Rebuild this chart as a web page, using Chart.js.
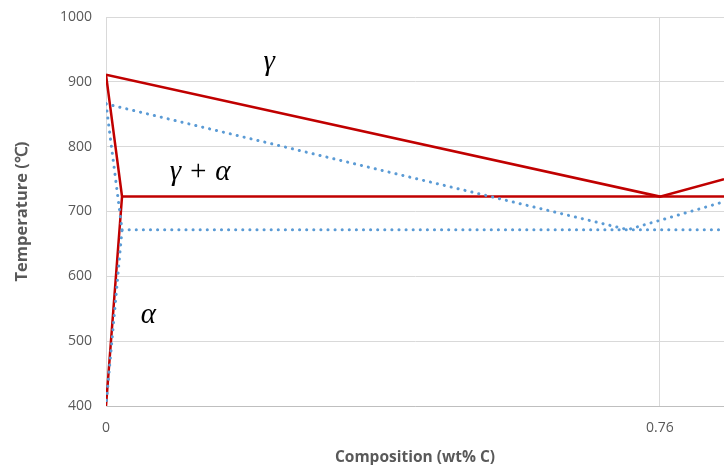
<!DOCTYPE html>
<html>
<head>
<meta charset="utf-8">
<script src="https://cdn.jsdelivr.net/npm/chart.js@4.4.0/dist/chart.umd.min.js"></script>
<style>
  html, body { margin: 0; padding: 0; background: #fff; }
  #wrap { width: 724px; height: 465px; }
</style>
</head>
<body>
<div id="wrap"><canvas id="grafico" width="724" height="465"></canvas></div>
<script>
// Valores (composicion en wt% C, temperatura en C)
var xTicks = [0, 0.76];
var xMax = 0.848;

// lineas rojas (diagrama de equilibrio)
var rojoGamma = [{x: 0, y: 911}, {x: 0.76, y: 723}, {x: 0.848, y: 750}];
var rojoAlfa = [{x: 0, y: 911}, {x: 0.022, y: 723}, {x: 0, y: 400}];
var rojoEutectoide = [{x: 0.022, y: 723}, {x: 0.848, y: 723}];

// lineas azules punteadas (desplazadas)
var azulGamma = [{x: 0, y: 866}, {x: 0.716, y: 672}, {x: 0.848, y: 715}];
var azulAlfa = [{x: 0, y: 866}, {x: 0.022, y: 672}, {x: 0, y: 400}];
var azulEutectoide = [{x: 0.022, y: 672}, {x: 0.848, y: 672}];

// etiquetas de fases
var etiquetas = ["\u03B3", "\u03B3 + \u03B1", "\u03B1"];
var etiquetasX = [0.224, 0.129, 0.058];
var etiquetasY = [930, 761, 540];

var rojo = "#c00000";
var azul = "#5b9bd5";

function serieRoja(datos) {
    return { data: datos, borderColor: rojo, borderWidth: 2.5, pointRadius: 0, fill: false, tension: 0 };
}
function serieAzul(datos) {
    return { data: datos, borderColor: azul, borderWidth: 3, borderDash: [0.1, 7], borderCapStyle: "round",
             pointRadius: 0, fill: false, tension: 0 };
}

// Dibuja las letras griegas dentro del area del grafico
var pluginEtiquetas = {
    id: "etiquetas",
    afterDatasetsDraw: function (chart) {
        var ctx = chart.ctx;
        var sx = chart.scales.x, sy = chart.scales.y;
        ctx.save();
        ctx.fillStyle = "#000";
        ctx.font = "italic 29px 'Liberation Serif'";
        ctx.textAlign = "center";
        ctx.textBaseline = "middle";
        for (var i = 0; i < etiquetas.length; i++) {
            ctx.fillText(etiquetas[i], sx.getPixelForValue(etiquetasX[i]), sy.getPixelForValue(etiquetasY[i]));
        }
        ctx.restore();
    }
};

var ctx = document.getElementById("grafico").getContext("2d");
var myChart = new Chart(ctx, {
    type: "line",
    data: {
        datasets: [
            serieAzul(azulGamma), serieAzul(azulAlfa), serieAzul(azulEutectoide),
            serieRoja(rojoGamma), serieRoja(rojoAlfa), serieRoja(rojoEutectoide)
        ]
    },
    options: {
        responsive: false,
        animation: false,
        layout: { padding: { top: 17, right: 0, left: 0, bottom: 0 } },
        plugins: { legend: { display: false }, tooltip: { enabled: false } },
        scales: {
            x: {
                type: "linear",
                min: 0,
                max: xMax,
                afterBuildTicks: function (scale) {
                    scale.ticks = xTicks.map(function (v) { return { value: v }; });
                },
                afterFit: function (scale) { scale.height = 59; },
                ticks: {
                    color: "#595959",
                    font: { family: "'Open Sans'", size: 14 },
                    maxRotation: 0,
                    padding: 14,
                    callback: function (v) { return v === 0 ? "0" : String(v); }
                },
                grid: {
                    color: function (c) { return c.tick && c.tick.value === 0 ? "rgba(0,0,0,0)" : "#d9d9d9"; },
                    drawTicks: false
                },
                border: { color: "#bfbfbf", width: 1 },
                title: {
                    display: true,
                    text: "Composition (wt% C)",
                    color: "#595959",
                    font: { family: "'Open Sans'", size: 15.5, weight: "bold" },
                    padding: { top: 9, bottom: -1.5 }
                }
            },
            y: {
                min: 400,
                max: 1000,
                afterFit: function (scale) {
                    scale.width = 106;
                    // el margen superior lo pone layout.padding
                    scale.paddingTop = 0;
                    scale.paddingBottom = 0;
                },
                ticks: {
                    stepSize: 100,
                    color: "#595959",
                    font: { family: "'Open Sans'", size: 14 },
                    padding: 14,
                    callback: function (v) { return String(v); }
                },
                grid: { color: "#d9d9d9", drawTicks: false },
                border: { color: "#d9d9d9", width: 1 },
                title: {
                    display: true,
                    text: "Temperature (\u2103)",
                    color: "#595959",
                    font: { family: "'Open Sans'", size: 16.5, weight: "bold" },
                    padding: { top: 12, bottom: 0 }
                }
            }
        }
    },
    plugins: [pluginEtiquetas]
});
</script>
</body>
</html>
